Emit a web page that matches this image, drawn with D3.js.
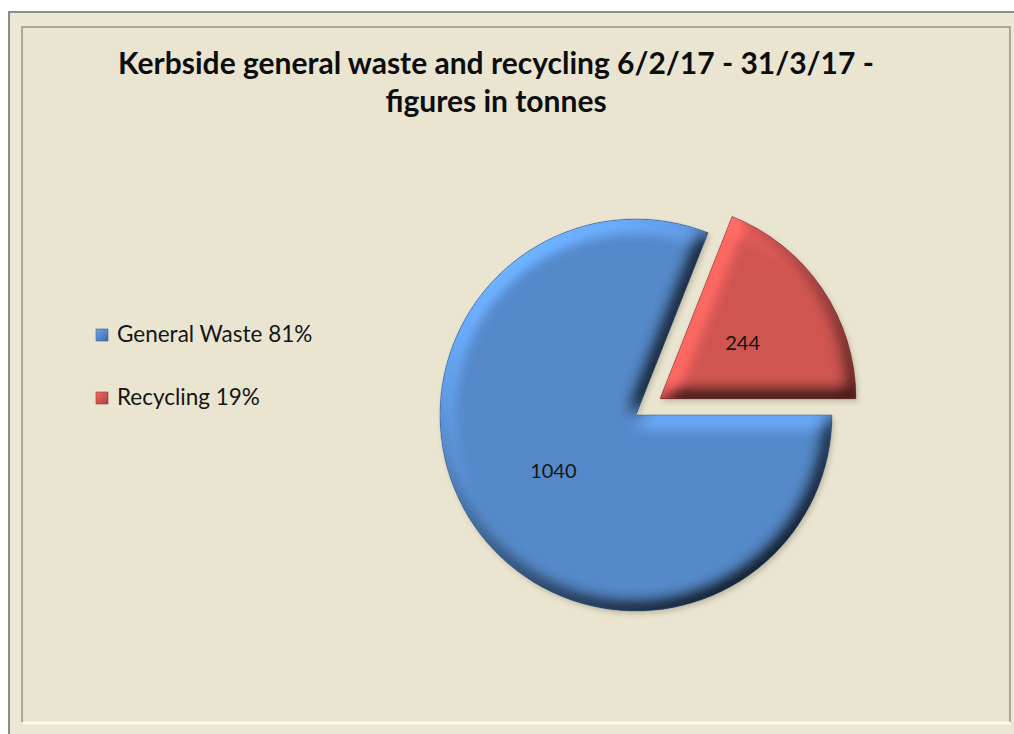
<!DOCTYPE html>
<html>
<head>
<meta charset="utf-8">
<script src="https://cdn.jsdelivr.net/npm/d3@7"></script>
<style>
  body { margin: 0; background: #ffffff; }
  svg text { font-family: Lato, "Open Sans", sans-serif; }
</style>
</head>
<body>
<div id="chart"></div>
<script>
// data
let categories = ["General Waste", "Recycling"];
let tonnes = [1040, 244];
let titleLines = ["Kerbside general waste and recycling 6/2/17 - 31/3/17 -", "figures in tonnes"];

let w = 1014;
let h = 734;
let cx = 636, cy = 415, r = 196;
let explodeIndex = 1;   // recycling slice is pulled out
let explodeDist = 29;

let color = d3.scaleOrdinal().domain(categories).range(["#5589c9", "#d05551"]);
let edgeColor = d3.scaleOrdinal().domain(categories).range(["#3a659c", "#953a37"]);

let svg = d3.select("#chart").append("svg")
  .attr("width", w)
  .attr("height", h);

let defs = svg.append("defs");

// bevel: lighting on blurred alpha, multiplied into the fill
let elev = 50;
let bevel = defs.append("filter")
  .attr("id", "bevel")
  .attr("x", "-10%").attr("y", "-10%").attr("width", "120%").attr("height", "120%")
  .attr("color-interpolation-filters", "sRGB");
bevel.append("feGaussianBlur").attr("in", "SourceAlpha").attr("stdDeviation", 9).attr("result", "blur");
bevel.append("feDiffuseLighting")
    .attr("in", "blur").attr("surfaceScale", 8.5).attr("diffuseConstant", 1)
    .attr("lighting-color", "#ffffff").attr("result", "light")
  .append("feDistantLight").attr("azimuth", 235).attr("elevation", elev);
bevel.append("feComposite")
  .attr("in", "SourceGraphic").attr("in2", "light")
  .attr("operator", "arithmetic")
  .attr("k1", 1 / Math.sin(elev * Math.PI / 180)).attr("k2", 0).attr("k3", 0).attr("k4", 0);

let shadow = defs.append("filter")
  .attr("id", "shadow")
  .attr("x", "-10%").attr("y", "-10%").attr("width", "130%").attr("height", "130%");
shadow.append("feGaussianBlur").attr("stdDeviation", 2.5);

// legend marker gradients
categories.forEach(function(c, i){
  let g = defs.append("linearGradient")
    .attr("id", "lg" + i)
    .attr("x1", 0).attr("y1", 0).attr("x2", 1).attr("y2", 1);
  g.append("stop").attr("offset", "0%").attr("stop-color", d3.color(color(c)).brighter(0.5));
  g.append("stop").attr("offset", "50%").attr("stop-color", color(c));
  g.append("stop").attr("offset", "100%").attr("stop-color", d3.color(color(c)).darker(0.7));
});

// frame
svg.append("rect")
  .attr("x", 9).attr("y", 12)
  .attr("width", 1012).attr("height", 732)
  .attr("fill", "#ece8d7")
  .attr("stroke", "#8c8c88")
  .attr("stroke-width", 2);

svg.append("rect")
  .attr("x", 22).attr("y", 27)
  .attr("width", 988).attr("height", 695)
  .attr("fill", "#eae5d1");

svg.append("path")
  .attr("d", "M22,722 L22,27 L1010,27 L1010,722")
  .attr("fill", "none")
  .attr("stroke", "#95927f")
  .attr("stroke-width", 1.5);

svg.append("line")
  .attr("x1", 23).attr("x2", 1010)
  .attr("y1", 723).attr("y2", 723)
  .attr("stroke", "#fffbea")
  .attr("stroke-width", 3);

// title
svg.append("g")
  .selectAll("text")
  .data(titleLines)
  .enter()
  .append("text")
    .attr("x", 496)
    .attr("y", function(d, i){ return 74 + i * 38; })
    .attr("text-anchor", "middle")
    .attr("font-size", 30)
    .attr("font-weight", "bold")
    .attr("fill", "#0d0d0d")
    .text(function(d){ return d; });

// pie
let pie = d3.pie()
  .sort(null)
  .startAngle(Math.PI / 2)
  .endAngle(Math.PI / 2 + 2 * Math.PI)
  .value(function(d){ return d; });

let arc = d3.arc().innerRadius(0).outerRadius(r);
let labelArc = d3.arc().innerRadius(r * 0.51).outerRadius(r * 0.51);

let slices = pie(tonnes);

function offset(d, i){
  if (i != explodeIndex) return [0, 0];
  let mid = (d.startAngle + d.endAngle) / 2;
  return [Math.sin(mid) * explodeDist, -Math.cos(mid) * explodeDist];
}

let pieGroup = svg.append("g")
  .attr("transform", "translate(" + cx + "," + cy + ")");

// shadows first
pieGroup.selectAll(".shadow")
  .data(slices)
  .enter()
  .append("path")
    .attr("class", "shadow")
    .attr("d", arc)
    .attr("transform", function(d, i){
      let o = offset(d, i);
      return "translate(" + (o[0] + 2) + "," + (o[1] + 3) + ")";
    })
    .attr("fill", "rgba(70,60,40,0.25)")
    .attr("filter", "url(#shadow)");

let sliceGroups = pieGroup.selectAll(".slice")
  .data(slices)
  .enter()
  .append("g")
    .attr("class", "slice")
    .attr("transform", function(d, i){
      let o = offset(d, i);
      return "translate(" + o[0] + "," + o[1] + ")";
    });

sliceGroups.append("path")
  .attr("d", arc)
  .attr("fill", function(d, i){ return color(categories[i]); })
  .attr("filter", "url(#bevel)");

sliceGroups.append("path")
  .attr("d", arc)
  .attr("fill", "none")
  .attr("stroke", function(d, i){ return edgeColor(categories[i]); })
  .attr("stroke-opacity", 0.5)
  .attr("stroke-width", 1);

sliceGroups.append("text")
  .attr("transform", function(d){ return "translate(" + labelArc.centroid(d) + ")"; })
  .attr("text-anchor", "middle")
  .attr("dy", "0.35em")
  .attr("font-size", 20)
  .attr("fill", "#151515")
  .text(function(d){ return d.data; });

// legend
let total = d3.sum(tonnes);
let pct = d3.format(".0%");

let legend = svg.append("g")
  .selectAll(".legend")
  .data(categories)
  .enter()
  .append("g")
    .attr("class", "legend")
    .attr("transform", function(d, i){ return "translate(96," + (335 + i * 63) + ")"; });

legend.append("rect")
  .attr("x", 0).attr("y", -6)
  .attr("width", 12).attr("height", 12)
  .attr("fill", function(d, i){ return "url(#lg" + i + ")"; })
  .attr("stroke", function(d){ return edgeColor(d); })
  .attr("stroke-width", 0.6);

legend.append("text")
  .attr("x", 21)
  .attr("y", 7)
  .attr("font-size", 22.5)
  .attr("fill", "#151515")
  .text(function(d, i){ return d + " " + pct(tonnes[i] / total); });
</script>
</body>
</html>
